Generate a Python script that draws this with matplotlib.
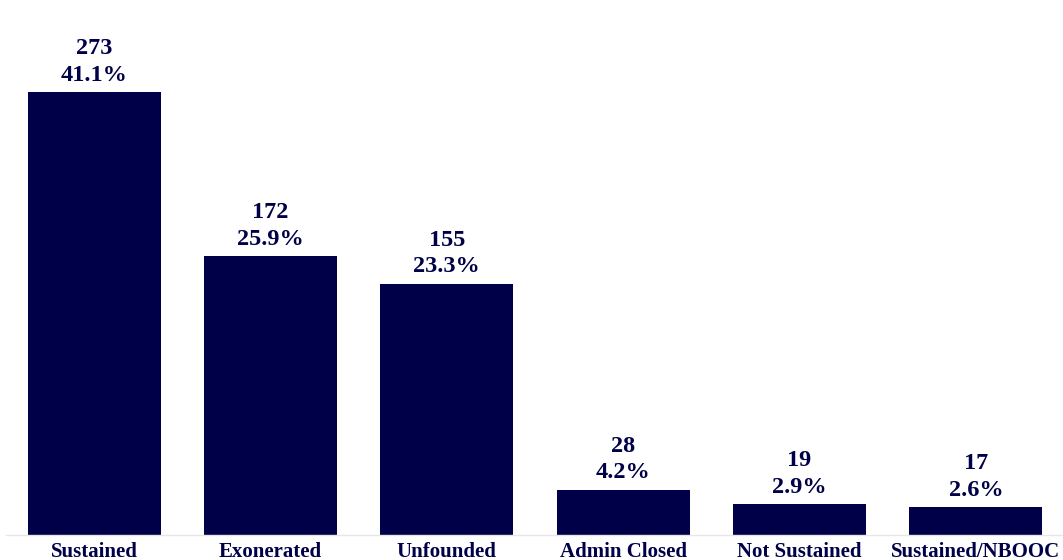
import matplotlib.pyplot as plt

categories = ["Sustained", "Exonerated", "Unfounded", "Admin Closed",
              "Not Sustained", "Sustained/NBOOC"]
counts = [273, 172, 155, 28, 19, 17]
percents = ["41.1%", "25.9%", "23.3%", "4.2%", "2.9%", "2.6%"]

navy = "#000048"

plt.rcParams["font.family"] = ["Liberation Serif", "DejaVu Serif"]
plt.rcParams["font.weight"] = "bold"

fig = plt.figure(figsize=(10.63, 5.6), dpi=100)
ax = fig.add_axes([6 / 1063, 25 / 560, 1058 / 1063, 535 / 560])

x = range(len(categories))
bars = ax.bar(x, counts, width=0.755, color=navy)

for rect, n, p in zip(bars, counts, percents):
    ax.text(rect.get_x() + rect.get_width() / 2, rect.get_height() + 4,
            f"{n}\n{p}", ha="center", va="bottom", fontsize=17.5,
            fontweight="bold", color=navy, linespacing=1.35)

ax.set_xlim(-0.5, len(categories) - 0.5)
ax.set_ylim(0, 330)
ax.set_xticks(list(x))
ax.set_xticklabels(categories, fontsize=15, fontweight="bold", color=navy)
ax.tick_params(axis="x", length=0, pad=5)
ax.set_yticks([])
for side in ("top", "left", "right"):
    ax.spines[side].set_visible(False)
ax.spines["bottom"].set_color("#e6e6e6")
ax.spines["bottom"].set_linewidth(1)

fig.savefig("out.png", dpi=100)
